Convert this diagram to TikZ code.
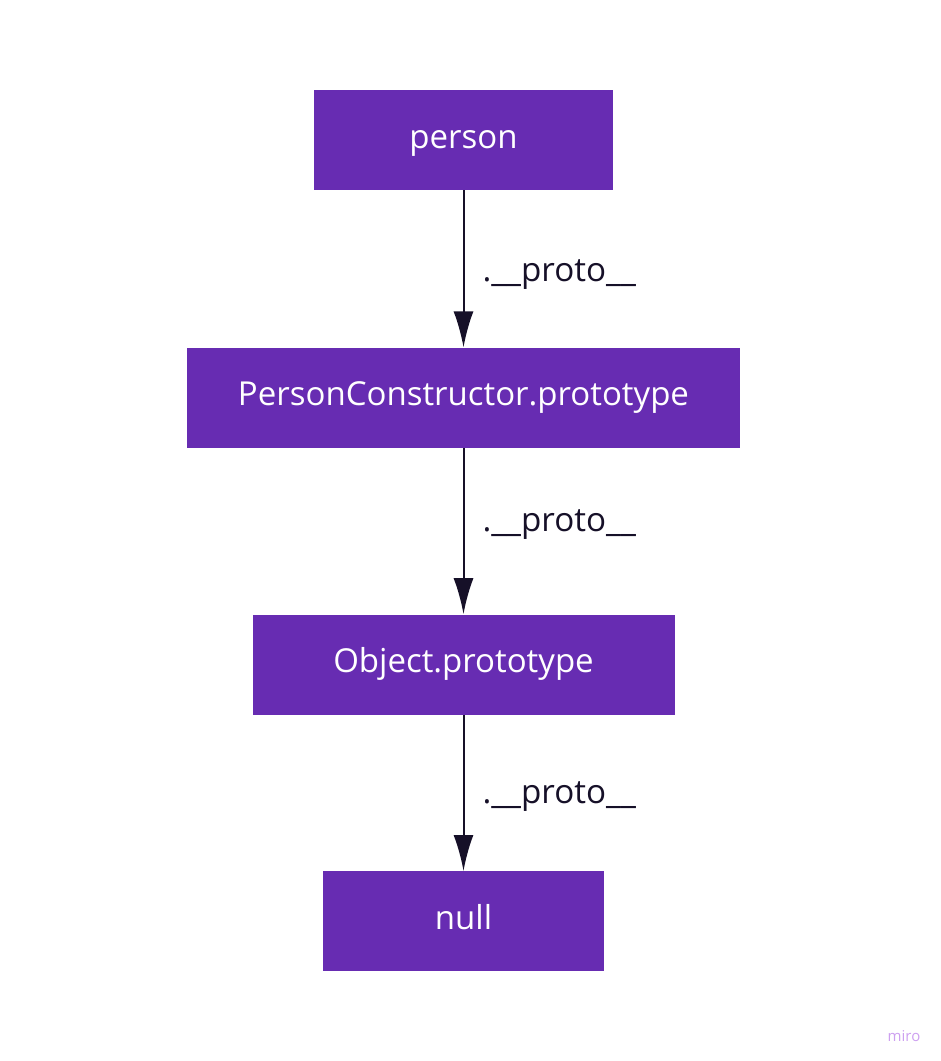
\documentclass[tikz,border=0pt]{standalone}
\usepackage{fontspec}
\setmainfont{Open Sans}
\usetikzlibrary{positioning,arrows.meta}
\definecolor{miropurple}{RGB}{103,44,178}
\definecolor{miroink}{RGB}{22,16,40}
\definecolor{mirolight}{RGB}{205,160,240}
\tikzset{
  box/.style={fill=miropurple, text=white, align=center, minimum height=50pt, text height=11pt, text depth=3pt, font=\fontsize{16.5}{19}\selectfont},
  arrow/.style={-{Latex[length=18pt, width=10pt]}, line width=1pt, miroink},
  lbl/.style={anchor=west, text=miroink, font=\fontsize{16.6}{19}\selectfont, inner sep=0pt}
}

\begin{document}
\begin{tikzpicture}[node distance=78.5pt]
    \useasboundingbox (0,0) rectangle (470.5pt,-530.5pt);
    \node[box, minimum width=149.5pt] (person) at (231.75pt,-70pt) {person};
    \node[box, minimum width=276.5pt, below=of person] (ctor) {PersonConstructor.prototype};
    \node[box, minimum width=211pt, below=83pt of ctor] (obj) {Object.prototype};
    \node[box, minimum width=140.5pt, below=78pt of obj] (null) {null};
    \draw[arrow] (person) -- node[lbl, xshift=9pt, yshift=-3pt] (p1) {.\_\_proto\_\_} (ctor);
    \draw[arrow] (ctor) -- node[lbl, xshift=9pt, yshift=3.5pt] (p2) {.\_\_proto\_\_} (obj);
    \draw[arrow] (obj) -- node[lbl, xshift=9pt, yshift=-2pt] (p3) {.\_\_proto\_\_} (null);
    \node[text=mirolight, font=\fontsize{7.5}{9}\selectfont, inner sep=0pt] (miro) at (452pt,-518pt) {miro};
  \end{tikzpicture}
\end{document}
